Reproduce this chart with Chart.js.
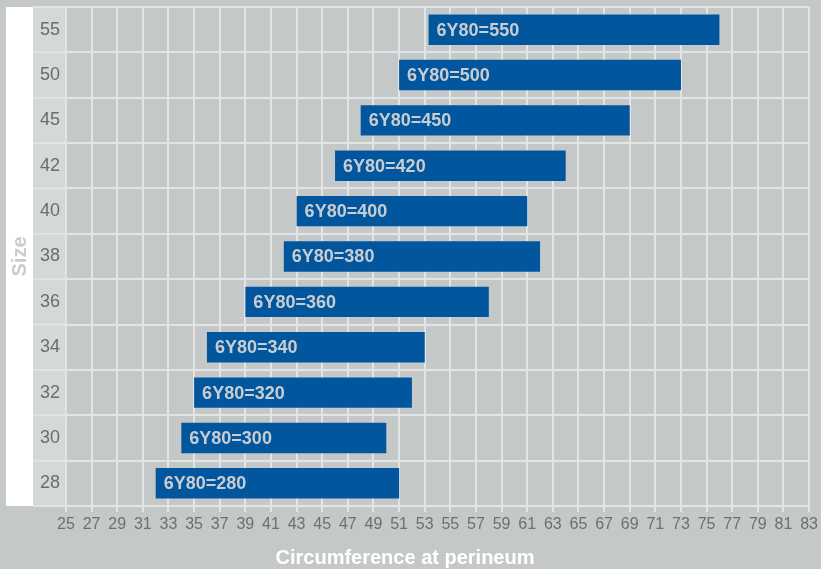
<!DOCTYPE html>
<html lang="en">
<head>
  <meta charset="UTF-8" />
  <title>Size chart</title>
  <style>
    body {
      margin: 0;
      background-color: #c5c8c9;
    }
    #wrap {
      width: 821px;
      height: 569px;
    }
  </style>
</head>
<body>
  <div id="wrap"><canvas id="sizeChart"></canvas></div>

  <script src="https://cdn.jsdelivr.net/npm/chart.js"></script>
  <script>
    const sizes = ['55', '50', '45', '42', '40', '38', '36', '34', '32', '30', '28'];
    const minCirc = [53.3, 51, 48, 46, 43, 42, 39, 36, 35, 34, 32];
    const maxCirc = [76, 73, 69, 64, 61, 62, 58, 53, 52, 50, 51];
    const codes = ['6Y80=550', '6Y80=500', '6Y80=450', '6Y80=420', '6Y80=400', '6Y80=380',
                   '6Y80=360', '6Y80=340', '6Y80=320', '6Y80=300', '6Y80=280'];
    const xMin = 25, xMax = 83, xStep = 2;

    const gridColor = '#e3e5e5';
    const fontFamily = "'Liberation Sans', Arial, sans-serif";

    // white strip + lighter label column on the left
    const backdrop = {
      id: 'backdrop',
      beforeDraw(chart) {
        const { ctx, chartArea: a } = chart;
        ctx.save();
        ctx.fillStyle = '#c5c8c9';
        ctx.fillRect(0, 0, chart.width, chart.height);
        ctx.fillStyle = '#ffffff';
        ctx.fillRect(6, a.top, 27, a.bottom - a.top);
        ctx.fillStyle = '#d5d8d9';
        ctx.fillRect(33, a.top, a.left - 33, a.bottom - a.top);
        const step = (a.bottom - a.top) / sizes.length;
        ctx.strokeStyle = gridColor;
        ctx.lineWidth = 2;
        for (let i = 0; i <= sizes.length; i++) {
          const y = a.top + i * step;
          ctx.beginPath();
          ctx.moveTo(33, y);
          ctx.lineTo(a.left, y);
          ctx.stroke();
        }
        ctx.restore();
      }
    };

    // text inside each bar + bottom axis title
    const barText = {
      id: 'barText',
      afterDatasetsDraw(chart) {
        const { ctx } = chart;
        const meta = chart.getDatasetMeta(0);
        ctx.save();
        ctx.font = 'bold 18px ' + fontFamily;
        ctx.fillStyle = '#c9cdd1';
        ctx.textAlign = 'left';
        ctx.textBaseline = 'middle';
        meta.data.forEach((bar, i) => {
          const left = Math.min(bar.x, bar.base);
          ctx.fillText(codes[i], left + 8, bar.y + 1);
        });
        ctx.font = 'bold 20px ' + fontFamily;
        ctx.fillStyle = '#ffffff';
        ctx.textAlign = 'center';
        ctx.fillText('Circumference at perineum', 405, 558);
        ctx.restore();
      }
    };

    new Chart(document.getElementById('sizeChart'), {
      type: 'bar',
      data: {
        labels: sizes,
        datasets: [{
          data: sizes.map((s, i) => [minCirc[i], maxCirc[i]]),
          backgroundColor: '#02569d',
          borderWidth: 0,
          borderSkipped: false,
          barPercentage: 0.67,
          categoryPercentage: 1
        }]
      },
      options: {
        indexAxis: 'y',
        responsive: true,
        maintainAspectRatio: false,
        animation: false,
        layout: { padding: { top: 7, left: 6, right: 11, bottom: 0 } },
        plugins: {
          legend: { display: false },
          tooltip: { enabled: false }
        },
        scales: {
          x: {
            min: xMin,
            max: xMax,
            afterFit(scale) { scale.height = 63; },
            ticks: {
              stepSize: xStep,
              color: '#6d6f70',
              padding: 3,
              maxRotation: 0,
              autoSkip: false,
              font: { family: fontFamily, size: 16 }
            },
            grid: { color: gridColor, lineWidth: 2, tickLength: 6 },
            border: { color: gridColor, width: 2 }
          },
          y: {
            afterFit(scale) {
              scale.width = 60;
              scale.paddingTop = 0;
              scale.paddingBottom = 0;
            },
            ticks: {
              color: '#6a6c6e',
              padding: 6,
              font: { family: fontFamily, size: 18 }
            },
            grid: { color: gridColor, lineWidth: 2, drawTicks: false },
            border: { color: gridColor, width: 2 },
            title: {
              display: true,
              text: 'Size',
              color: '#c8ccd0',
              padding: { top: 2, bottom: 0 },
              font: { family: fontFamily, size: 20, weight: 'bold' }
            }
          }
        }
      },
      plugins: [backdrop, barText]
    });
  </script>
</body>
</html>
